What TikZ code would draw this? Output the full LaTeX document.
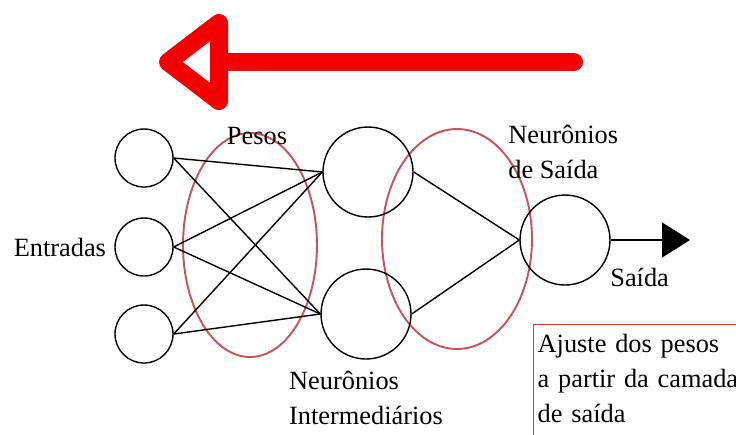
\documentclass[tikz,border=0pt]{standalone}
\usepackage{fontspec}
\setmainfont{Liberation Serif}
\usepackage{tikz}
\usetikzlibrary{shapes.geometric, arrows.meta, positioning}
\usepackage{xcolor}
\definecolor{ringred}{HTML}{C8545A}
\definecolor{backred}{HTML}{F20000}
\definecolor{notered}{HTML}{D03A3A}

\begin{document}
\begin{tikzpicture}[
    x=0.02cm, y=-0.02cm,
    every node/.style={font=\fontsize{15}{20}\selectfont},
    inunit/.style={draw, circle, minimum size=1.16cm, inner sep=0pt, line width=0.8pt},
    unit/.style={draw, circle, minimum size=1.8cm, inner sep=0pt, line width=0.8pt},
    grp/.style={draw=ringred, ellipse, inner sep=0pt, line width=1.1pt},
    conn/.style={draw=black, line width=0.8pt},
    lbl/.style={inner sep=0pt, align=left},
    backprop/.style={draw=backred, line width=0.36cm, line cap=round, line join=round},
    outarrow/.style={-{Triangle[length=0.56cm, width=0.7cm]}, draw=black, line width=0.8pt},
    note/.style={draw=notered, line width=0.8pt, align=left, text width=4.8cm, inner xsep=0.08cm, inner ysep=0.18cm}
]
    \useasboundingbox (0,0) rectangle (736,434);

    % Backward arrow
    \coordinate (bk0) at (574,62);
    \coordinate (bk1) at (219,62);
    \draw[backprop] (bk0) -- (bk1);
    \draw[backprop, fill=white] (168,62) -- (219,23) -- (219,101) -- cycle;

    % Weight groups
    \node[grp, minimum width=2.68cm, minimum height=4.48cm] (pesos) at (250,245) {};
    \node[grp, minimum width=3.0cm, minimum height=4.4cm] (saidas) at (457,239) {};

    % Layers
    \node[inunit] (in1) at (144,158) {};
    \node[inunit] (in2) at (144,247) {};
    \node[inunit] (in3) at (144,334) {};
    \node[unit] (hid1) at (368,172) {};
    \node[unit] (hid2) at (366,314) {};
    \node[unit] (out) at (565,240) {};
    \coordinate (outend) at (690,240);

    % Connections
    \foreach \i in {1,2,3}
        \foreach \j in {1,2}
            \draw[conn] (in\i.east) -- (hid\j.west);
    \draw[conn] (hid1.east) -- (out.west);
    \draw[conn] (hid2.east) -- (out.west);
    \draw[outarrow] (out) -- (outend);

    % Labels
    \node[lbl] (lpesos) at (257,136) {Pesos};
    \node[lbl, left=0.16cm of in2] (lin) {Entradas};
    \node[lbl, anchor=west] (lsaida) at (508,152) {Neurônios\\de Saída};
    \node[lbl, below=0.22cm of hid2] (lhid) {Neurônios\\Intermediários};
    \node[lbl, anchor=west] (lout) at (610,277) {Saída};
    \node[note, anchor=north west] (ajuste) at (533,324) {Ajuste dos pesos\\a partir da camada\\de saída\rule[-0.4cm]{0pt}{0.4cm}};
\end{tikzpicture}
\end{document}
